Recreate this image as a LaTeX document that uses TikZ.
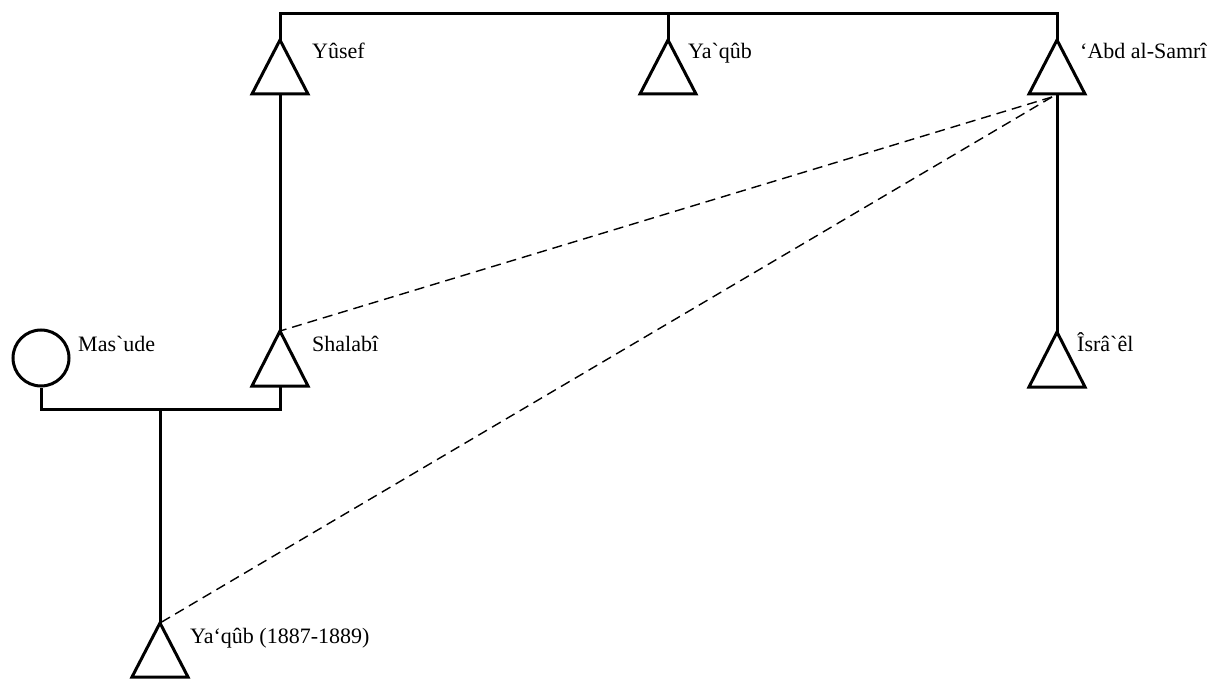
\documentclass[tikz,border=0pt]{standalone}
\usepackage{fontspec}
\setmainfont{Liberation Serif}[Ligatures=TeXOff]
\usetikzlibrary{calc}
\begin{document}
\begin{tikzpicture}[x=1pt,y=-1pt,
  line/.style={line width=3pt},
  tri/.style={line width=3pt, fill=white, line join=miter},
  rel/.style={line width=1.4pt, dash pattern=on 10pt off 6pt},
  lab/.style={anchor=base west, inner sep=0pt, font=\fontsize{22}{26}\selectfont},
  fem/.style={circle, draw, line width=3pt, fill=white, minimum size=56pt, inner sep=0pt}]
\useasboundingbox (0,0) rectangle (1211,679);
% apex / base coordinates of the triangles
\coordinate (yusA) at (280,40);  \coordinate (yusB) at (280,94);
\coordinate (yaqA) at (668,40);  \coordinate (yaqB) at (668,94);
\coordinate (abdA) at (1057,40); \coordinate (abdB) at (1057,94);
\coordinate (shaA) at (280,331); \coordinate (shaB) at (280,386);
\coordinate (isrA) at (1057,332);\coordinate (isrB) at (1057,387);
\coordinate (ykbA) at (160,623); \coordinate (ykbB) at (160,677);
\coordinate (abdD) at (1052,97);
% sibling bar
\coordinate (top1) at (280,14); \coordinate (top2) at (668,14); \coordinate (top3) at (1057,14);
\draw[line] (yusA) -- (top1) -- (top3) -- (abdA);
\draw[line] (top2) -- (yaqA);
% descent lines
\draw[line] (yusB) -- (shaA);
\draw[line] (abdB) -- (isrA);
% Mas`ude
\node[fem] (mas) at (41,358) {};
\coordinate (mar1) at (41,409); \coordinate (mar2) at (280,409); \coordinate (marC) at (160,409);
\draw[line] (mas.south) -- (mar1) -- (mar2) -- (shaB);
\draw[line] (marC) -- (ykbA);
% dashed relations
\draw[rel] (abdD) -- (shaA);
\draw[rel] (abdD) -- (ykbA);
% triangles
\foreach \t in {yus,yaq,abd,sha,isr,ykb}{
  \draw[tri] (\t A) -- ($(\t B)+(28,0)$) -- ($(\t B)+(-28,0)$) -- cycle;
}
% labels
\node[lab] (lyus) at (312,59) {Yûsef};
\node[lab] (lyaq) at (688,59) {Ya`qûb};
\node[lab] (labd) at (1080,59) {‘Abd al-Samrî};
\node[lab] (lmas) at (78,351) {Mas`ude};
\node[lab] (lsha) at (312,351) {Shalabî};
\node[lab] (lisr) at (1077,351) {Îsrâ`êl};
\node[lab] (lykb) at (190,643) {Ya‘qûb (1887-1889)};
\end{tikzpicture}
\end{document}
